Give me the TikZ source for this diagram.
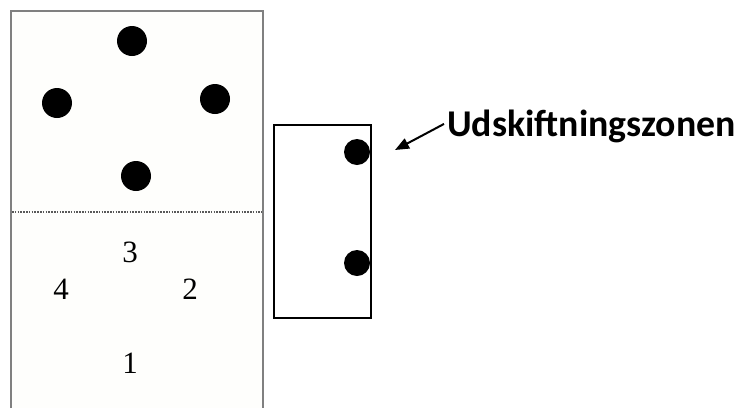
\documentclass[tikz,border=0pt]{standalone}
\usepackage{fontspec}
\setmainfont{Liberation Serif}
\newfontfamily\labelfont{Carlito}
\usetikzlibrary{arrows.meta}
\definecolor{fieldbg}{RGB}{254,254,252}
\definecolor{fieldline}{RGB}{128,128,128}

\begin{document}
\begin{tikzpicture}[x=1pt,y=-1pt,
    player/.style={circle, fill=black, inner sep=0pt, minimum size=30pt},
    sub/.style={circle, fill=black, inner sep=0pt, minimum size=26pt},
    posnum/.style={font=\fontsize{31}{37}\selectfont}]
        \useasboundingbox (0,0) rectangle (739,408);

        % banen
        \fill[fieldbg] (11,11) rectangle (263,408);
        \draw[fieldline, line width=2pt] (11,408) -- (11,11) -- (263,11) -- (263,408);
        \draw[dash pattern=on 1.6pt off 1.2pt, line width=2pt, black!65] (12,212) -- (262,212);

        \node[player] (p1) at (132, 41) {};
        \node[player] (p2) at (57, 103) {};
        \node[player] (p3) at (215, 99) {};
        \node[player] (p4) at (136, 176) {};

        \node[posnum] (n3) at (130, 252) {3};
        \node[posnum] (n4) at (61, 289) {4};
        \node[posnum] (n2) at (190, 289) {2};
        \node[posnum] (n1) at (130, 363) {1};

        % udskiftningszonen
        \node[draw, line width=1.3pt, minimum width=97pt, minimum height=193pt, inner sep=0pt] (zone) at (322.5, 221.5) {};
        \node[sub] (s1) at (357, 152) {};
        \node[sub] (s2) at (357, 263) {};

        \node[anchor=base west, inner sep=0pt, font=\labelfont\bfseries\fontsize{37.8}{45}\selectfont] (label) at (447, 136) {Udskiftningszonen};
        \coordinate (tip) at (395, 150);
        \draw[line width=2pt, -{Triangle[length=14pt, width=11pt]}] ([xshift=-3pt, yshift=2pt]label.west) -- (tip);

    \end{tikzpicture}
\end{document}
